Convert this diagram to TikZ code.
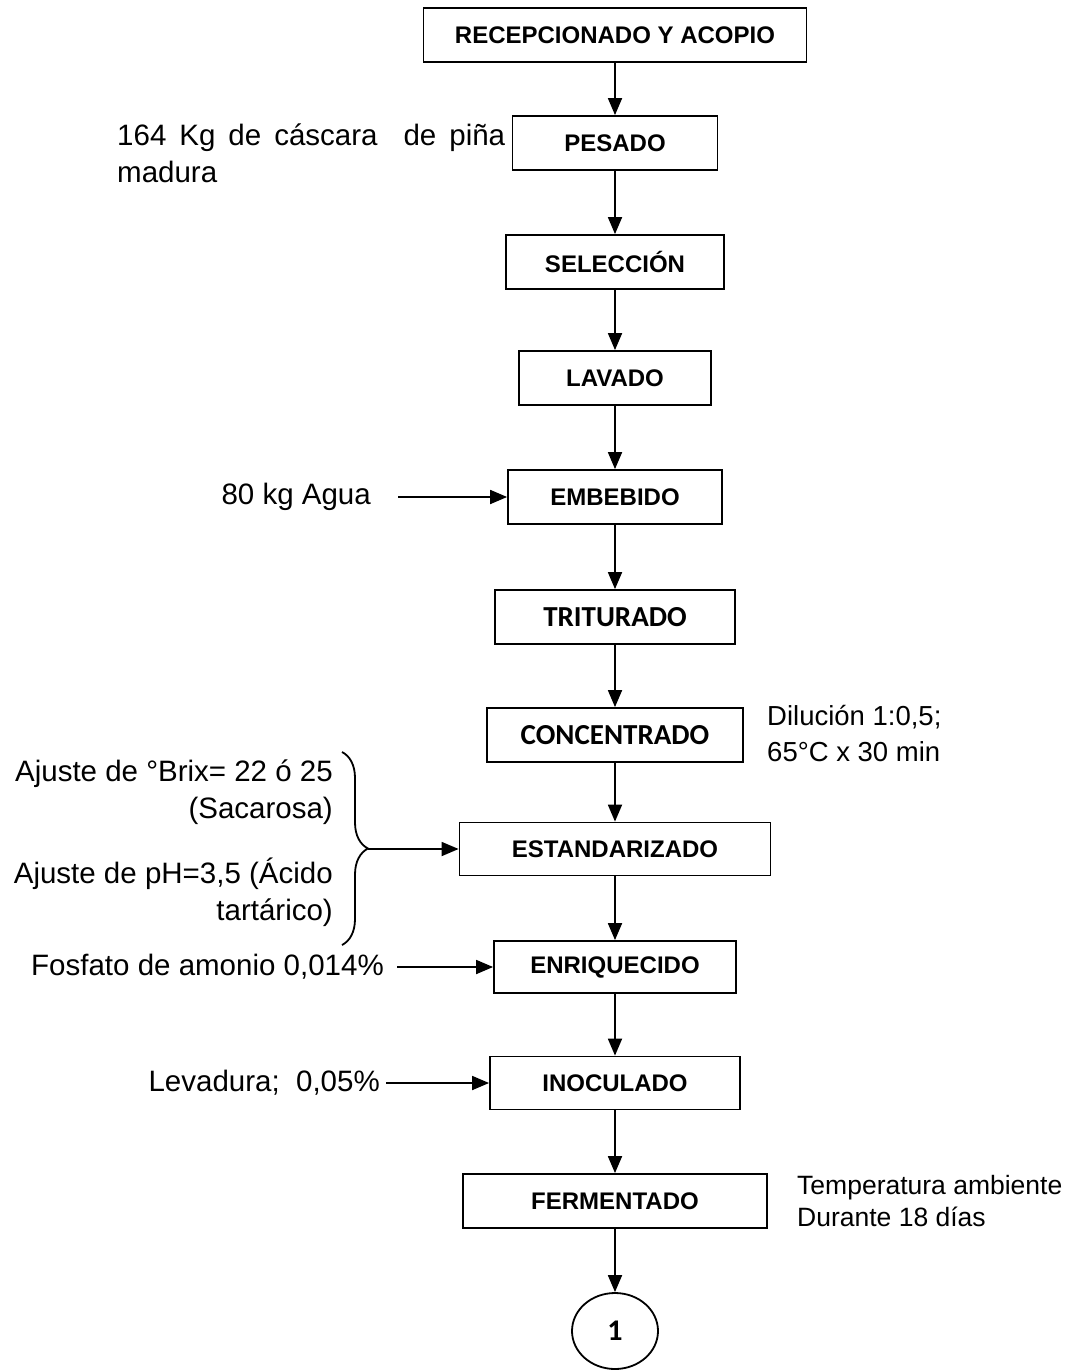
\documentclass[tikz,border=0pt]{standalone}
\usepackage{fontspec}
\setmainfont{Liberation Sans}
\newfontfamily\calibri{Carlito}
\usetikzlibrary{arrows.meta,positioning,shapes.geometric,decorations.pathreplacing}
\tikzset{
  >={Triangle[length=17pt,width=14pt]},
  box/.style={draw,line width=1.8pt,minimum height=54pt,inner sep=0pt,font=\fontsize{24}{28}\selectfont\bfseries},
  cbox/.style={box,font=\calibri\fontsize{29}{33}\selectfont\bfseries},
  lab/.style={inner sep=0pt,font=\fontsize{29.5}{36.5}\selectfont},
  slab/.style={lab,align=left,font=\fontsize{27.5}{36}\selectfont},
  arr/.style={->,line width=1.8pt},
}
\begin{document}
\begin{tikzpicture}[x=1pt,y=-1pt]
\path[fill=white,use as bounding box] (0,0) rectangle (1074,1370);
% etapas del proceso
\node[box,minimum width=383pt] (rec) at (615,35) {RECEPCIONADO Y ACOPIO};
\node[box,minimum width=205pt] (pes) at (615,143) {PESADO};
\node[box,minimum width=218pt] (sel) at (615,262) {SELECCIÓN};
\node[box,minimum width=192pt] (lav) at (615,378) {LAVADO};
\node[box,minimum width=214pt] (emb) at (615,497) {EMBEBIDO};
\node[cbox,minimum width=240pt] (tri) at (615,617) {TRITURADO};
\node[cbox,minimum width=256pt] (con) at (615,735) {CONCENTRADO};
\node[box,minimum width=311pt,minimum height=53pt] (est) at (615,849) {ESTANDARIZADO};
\node[box,minimum width=242pt,minimum height=52pt] (enr) at (615,967) {ENRIQUECIDO};
\node[box,minimum width=250pt,minimum height=53pt] (ino) at (615,1083) {INOCULADO};
\node[box,minimum width=304pt] (fer) at (615,1201) {FERMENTADO};
\node[draw,ellipse,line width=1.8pt,minimum width=86pt,minimum height=76pt,inner sep=0pt,font=\calibri\fontsize{30}{34}\selectfont\bfseries] (one) at (615,1331) {1};
% entradas y condiciones
\node[lab,anchor=north west,align=left] (cascara) at (117,124) {\makebox[388pt][s]{164 Kg de cáscara\ \ de piña}\\madura};
\node[lab,anchor=east] (agua) at (371,497) {80 kg Agua};
\node[slab,anchor=west] (dil) at (767,734) {Dilución 1:0,5;\\65°C x 30 min};
\node[lab,anchor=north east,align=right] (brix) at (333,760) {Ajuste de °Brix= 22 ó 25\\(Sacarosa)};
\node[lab,anchor=north east,align=right] (ph) at (333,858) {Ajuste de pH=3,5 (Ácido\\tartárico)};
\node[lab,anchor=east] (fosf) at (384,967) {Fosfato de amonio 0,014\%};
\node[lab,anchor=east] (lev) at (380,1083) {Levadura;\ \ 0,05\%};
\node[slab,anchor=west,font=\fontsize{26.5}{31.5}\selectfont] (temp) at (797,1201) {Temperatura ambiente\\Durante 18 días};
\draw[decorate,decoration={brace,amplitude=26pt},line width=1.8pt] (342,752) -- (342,945);
\coordinate (btip) at (368,849);
% flechas
\draw[arr](rec)--(pes); \draw[arr](pes)--(sel); \draw[arr](sel)--(lav); \draw[arr](lav)--(emb);
\draw[arr](emb)--(tri); \draw[arr](tri)--(con); \draw[arr](con)--(est); \draw[arr](est)--(enr);
\draw[arr](enr)--(ino); \draw[arr](ino)--(fer); \draw[arr](fer)--(one);
\draw[arr]([xshift=27pt]agua.east)--(emb.west); \draw[arr](btip)--(est.west);
\draw[arr]([xshift=13pt]fosf.east)--(enr.west); \draw[arr]([xshift=6pt]lev.east)--(ino.west);
\end{tikzpicture}
\end{document}
